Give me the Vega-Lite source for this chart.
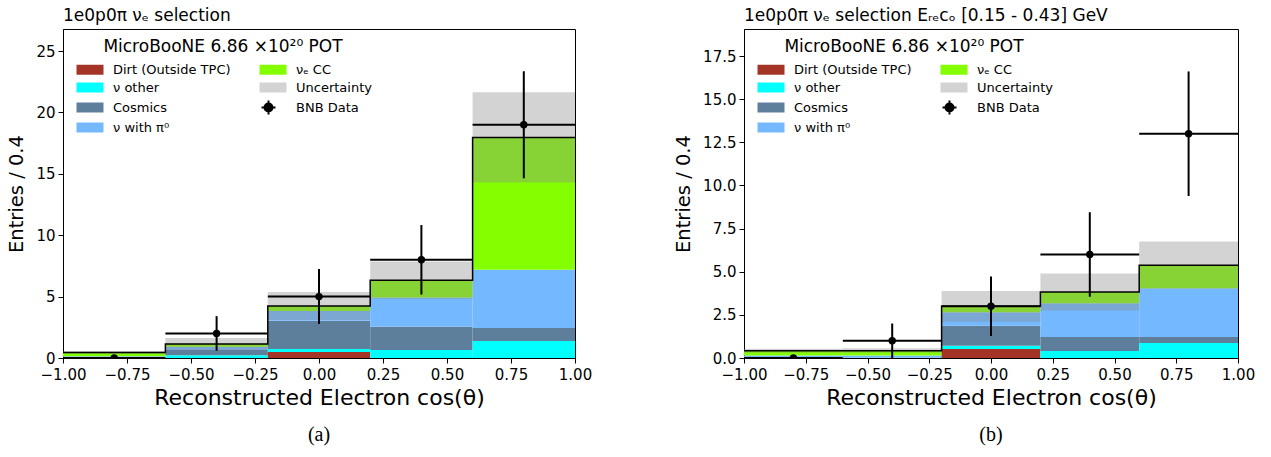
{
  "$schema": "https://vega.github.io/schema/vega-lite/v6.json",
  "background": "white",
  "padding": {"left": 6, "top": 6, "right": 5, "bottom": 3},
  "config": {
    "font": "DejaVu Sans",
    "view": {"stroke": "black", "strokeWidth": 1},
    "axis": {"grid": false, "domainColor": "black", "tickColor": "black", "labelColor": "black", "titleColor": "black", "tickSize": 5, "labelPadding": 3, "labelFontSize": 15, "titleFontWeight": "normal", "labelFlush": false},
    "axisX": {"titleFontSize": 22, "titlePadding": 5, "labelPadding": 4},
    "axisY": {"titleFontSize": 19.5, "titlePadding": 9},
    "title": {"fontWeight": "normal", "color": "black"},
    "legend": {"titleLimit": 400, "labelLimit": 300}
  },
  "datasets": {
    "compA": [
      {"lo": -1.0, "hi": -0.6, "category": "Cosmics", "count": 0.02, "ord": 3},
      {"lo": -1.0, "hi": -0.6, "category": "ν with π⁰", "count": 0.13, "ord": 4},
      {"lo": -1.0, "hi": -0.6, "category": "νₑ CC", "count": 0.30, "ord": 5},
      {"lo": -0.6, "hi": -0.2, "category": "ν other", "count": 0.22, "ord": 2},
      {"lo": -0.6, "hi": -0.2, "category": "Cosmics", "count": 0.43, "ord": 3},
      {"lo": -0.6, "hi": -0.2, "category": "ν with π⁰", "count": 0.27, "ord": 4},
      {"lo": -0.6, "hi": -0.2, "category": "νₑ CC", "count": 0.22, "ord": 5},
      {"lo": -0.2, "hi": 0.2, "category": "Dirt (Outside TPC)", "count": 0.49, "ord": 1},
      {"lo": -0.2, "hi": 0.2, "category": "ν other", "count": 0.24, "ord": 2},
      {"lo": -0.2, "hi": 0.2, "category": "Cosmics", "count": 2.30, "ord": 3},
      {"lo": -0.2, "hi": 0.2, "category": "ν with π⁰", "count": 0.79, "ord": 4},
      {"lo": -0.2, "hi": 0.2, "category": "νₑ CC", "count": 0.41, "ord": 5},
      {"lo": 0.2, "hi": 0.6, "category": "ν other", "count": 0.65, "ord": 2},
      {"lo": 0.2, "hi": 0.6, "category": "Cosmics", "count": 1.90, "ord": 3},
      {"lo": 0.2, "hi": 0.6, "category": "ν with π⁰", "count": 2.38, "ord": 4},
      {"lo": 0.2, "hi": 0.6, "category": "νₑ CC", "count": 1.41, "ord": 5},
      {"lo": 0.6, "hi": 1.0, "category": "ν other", "count": 1.38, "ord": 2},
      {"lo": 0.6, "hi": 1.0, "category": "Cosmics", "count": 1.06, "ord": 3},
      {"lo": 0.6, "hi": 1.0, "category": "ν with π⁰", "count": 4.74, "ord": 4},
      {"lo": 0.6, "hi": 1.0, "category": "νₑ CC", "count": 10.79, "ord": 5}
    ],
    "totA": [
      {"lo": -1.0, "hi": -0.6, "total": 0.45, "bandLo": 0.33, "bandHi": 0.57},
      {"lo": -0.6, "hi": -0.2, "total": 1.14, "bandLo": 0.65, "bandHi": 1.63},
      {"lo": -0.2, "hi": 0.2, "total": 4.23, "bandLo": 3.09, "bandHi": 5.37},
      {"lo": 0.2, "hi": 0.6, "total": 6.34, "bandLo": 4.82, "bandHi": 7.86},
      {"lo": 0.6, "hi": 1.0, "total": 17.97, "bandLo": 14.29, "bandHi": 21.65}
    ],
    "stepA": [
      {"edge": -1.0, "total": 0.45},
      {"edge": -0.6, "total": 1.14},
      {"edge": -0.2, "total": 4.23},
      {"edge": 0.2, "total": 6.34},
      {"edge": 0.6, "total": 17.97},
      {"edge": 1.0, "total": 17.97}
    ],
    "dataA": [
      {"center": -0.8, "lo": -1.0, "hi": -0.6, "n": 0, "nlo": 0, "nhi": 0},
      {"center": -0.4, "lo": -0.6, "hi": -0.2, "n": 2, "nlo": 0.59, "nhi": 3.41},
      {"center": 0.0, "lo": -0.2, "hi": 0.2, "n": 5, "nlo": 2.76, "nhi": 7.24},
      {"center": 0.4, "lo": 0.2, "hi": 0.6, "n": 8, "nlo": 5.17, "nhi": 10.83},
      {"center": 0.8, "lo": 0.6, "hi": 1.0, "n": 19, "nlo": 14.64, "nhi": 23.36}
    ],
    "compB": [
      {"lo": -1.0, "hi": -0.6, "category": "Cosmics", "count": 0.02, "ord": 3},
      {"lo": -1.0, "hi": -0.6, "category": "ν with π⁰", "count": 0.12, "ord": 4},
      {"lo": -1.0, "hi": -0.6, "category": "νₑ CC", "count": 0.28, "ord": 5},
      {"lo": -0.6, "hi": -0.2, "category": "Cosmics", "count": 0.02, "ord": 3},
      {"lo": -0.6, "hi": -0.2, "category": "ν with π⁰", "count": 0.12, "ord": 4},
      {"lo": -0.6, "hi": -0.2, "category": "νₑ CC", "count": 0.28, "ord": 5},
      {"lo": -0.2, "hi": 0.2, "category": "Dirt (Outside TPC)", "count": 0.52, "ord": 1},
      {"lo": -0.2, "hi": 0.2, "category": "ν other", "count": 0.19, "ord": 2},
      {"lo": -0.2, "hi": 0.2, "category": "Cosmics", "count": 1.16, "ord": 3},
      {"lo": -0.2, "hi": 0.2, "category": "ν with π⁰", "count": 0.78, "ord": 4},
      {"lo": -0.2, "hi": 0.2, "category": "νₑ CC", "count": 0.35, "ord": 5},
      {"lo": 0.2, "hi": 0.6, "category": "ν other", "count": 0.40, "ord": 2},
      {"lo": 0.2, "hi": 0.6, "category": "Cosmics", "count": 0.81, "ord": 3},
      {"lo": 0.2, "hi": 0.6, "category": "ν with π⁰", "count": 1.96, "ord": 4},
      {"lo": 0.2, "hi": 0.6, "category": "νₑ CC", "count": 0.66, "ord": 5},
      {"lo": 0.6, "hi": 1.0, "category": "ν other", "count": 0.87, "ord": 2},
      {"lo": 0.6, "hi": 1.0, "category": "Cosmics", "count": 0.34, "ord": 3},
      {"lo": 0.6, "hi": 1.0, "category": "ν with π⁰", "count": 2.83, "ord": 4},
      {"lo": 0.6, "hi": 1.0, "category": "νₑ CC", "count": 1.34, "ord": 5}
    ],
    "totB": [
      {"lo": -1.0, "hi": -0.6, "total": 0.42, "bandLo": 0.31, "bandHi": 0.53},
      {"lo": -0.6, "hi": -0.2, "total": 0.42, "bandLo": 0.30, "bandHi": 0.56},
      {"lo": -0.2, "hi": 0.2, "total": 3.0, "bandLo": 2.1, "bandHi": 3.88},
      {"lo": 0.2, "hi": 0.6, "total": 3.83, "bandLo": 2.76, "bandHi": 4.9},
      {"lo": 0.6, "hi": 1.0, "total": 5.38, "bandLo": 4.01, "bandHi": 6.75}
    ],
    "stepB": [
      {"edge": -1.0, "total": 0.42},
      {"edge": -0.6, "total": 0.42},
      {"edge": -0.2, "total": 3.0},
      {"edge": 0.2, "total": 3.83},
      {"edge": 0.6, "total": 5.38},
      {"edge": 1.0, "total": 5.38}
    ],
    "dataB": [
      {"center": -0.8, "lo": -1.0, "hi": -0.6, "n": 0, "nlo": 0, "nhi": 0},
      {"center": -0.4, "lo": -0.6, "hi": -0.2, "n": 1, "nlo": 0, "nhi": 2},
      {"center": 0.0, "lo": -0.2, "hi": 0.2, "n": 3, "nlo": 1.27, "nhi": 4.73},
      {"center": 0.4, "lo": 0.2, "hi": 0.6, "n": 6, "nlo": 3.55, "nhi": 8.45},
      {"center": 0.8, "lo": 0.6, "hi": 1.0, "n": 13, "nlo": 9.39, "nhi": 16.61}
    ]
  },
  "hconcat": [
    {
      "title": {"text": "(a)", "orient": "bottom", "font": "Liberation Serif", "fontSize": 20, "anchor": "middle", "frame": "group", "dx": 256, "offset": 16},
      "resolve": {"scale": {"color": "independent"}},
      "vconcat": [
        {
          "width": 512,
          "height": 329,
          "title": {"text": "1e0p0π νₑ selection", "anchor": "start", "frame": "group", "fontSize": 17, "offset": 4},
          "layer": [
            {
              "data": {"name": "compA"},
              "transform": [{"stack": "count", "groupby": ["lo"], "sort": [{"field": "ord", "order": "ascending"}], "as": ["y0", "y1"]}],
              "mark": {"type": "bar", "clip": true},
              "encoding": {
                "x": {"field": "lo", "type": "quantitative", "scale": {"domain": [-1, 1], "nice": false, "zero": false}, "axis": {"values": [-1, -0.75, -0.5, -0.25, 0, 0.25, 0.5, 0.75, 1], "format": ".2f"}, "title": "Reconstructed Electron cos(θ)"},
                "x2": {"field": "hi"},
                "y": {"field": "y0", "type": "quantitative", "scale": {"domain": [0, 26.8], "nice": false}, "axis": {"values": [0, 5, 10, 15, 20, 25], "format": "d"}, "title": "Entries / 0.4"},
                "y2": {"field": "y1"},
                "color": {
                  "field": "category", "type": "nominal",
                  "scale": {
                    "domain": ["Dirt (Outside TPC)", "ν other", "Cosmics", "ν with π⁰", "νₑ CC", "Uncertainty", "BNB Data"],
                    "range": ["#a33426", "#00ffff", "#5e7f9c", "#74b8ff", "#84ff00", "#d3d3d3", "#000000"]
                  },
                  "legend": {
                    "orient": "none", "legendX": 12, "legendY": 10, "columns": 2,
                    "title": "MicroBooNE 6.86 ×10²⁰ POT", "titleFontSize": 17, "titleFontWeight": "normal", "titleColor": "black", "titleAnchor": "middle", "titlePadding": 7,
                    "labelFontSize": 13, "labelColor": "black", "symbolSize": 100, "rowPadding": -1, "columnPadding": 24, "labelOffset": 25,
                    "values": ["Dirt (Outside TPC)", "ν other", "Cosmics", "ν with π⁰", "νₑ CC", "Uncertainty", "BNB Data"],
                    "encode": {"symbols": {"update": {
                      "shape": {"signal": "datum.value === 'BNB Data' ? 'M0.8,-1.4V1.4M-0.6,0H2.2M0,0A0.8,0.8 0 1 1 1.6,0A0.8,0.8 0 1 1 0,0Z' : 'M-1,-1H4.4V1H-1Z'"},
                      "stroke": {"signal": "datum.value === 'BNB Data' ? 'black' : 'transparent'"},
                      "strokeWidth": {"value": 2},
                      "opacity": {"value": 1}
                    }}}
                  }
                }
              }
            },
            {
              "data": {"name": "totA"},
              "mark": {"type": "rect", "color": "#8d8d8d", "opacity": 0.384, "clip": true},
              "encoding": {
                "x": {"field": "lo", "type": "quantitative"},
                "x2": {"field": "hi"},
                "y": {"field": "bandLo", "type": "quantitative"},
                "y2": {"field": "bandHi"}
              }
            },
            {
              "data": {"name": "stepA"},
              "mark": {"type": "line", "interpolate": "step-after", "color": "black", "strokeWidth": 1.5, "clip": true},
              "encoding": {
                "x": {"field": "edge", "type": "quantitative"},
                "y": {"field": "total", "type": "quantitative"}
              }
            },
            {
              "data": {"name": "dataA"},
              "mark": {"type": "rule", "color": "black", "strokeWidth": 2, "clip": true},
              "encoding": {
                "x": {"field": "lo", "type": "quantitative"},
                "x2": {"field": "hi"},
                "y": {"field": "n", "type": "quantitative"}
              }
            },
            {
              "data": {"name": "dataA"},
              "mark": {"type": "rule", "color": "black", "strokeWidth": 2, "clip": true},
              "encoding": {
                "x": {"field": "center", "type": "quantitative"},
                "y": {"field": "nlo", "type": "quantitative"},
                "y2": {"field": "nhi"}
              }
            },
            {
              "data": {"name": "dataA"},
              "mark": {"type": "point", "filled": true, "shape": "circle", "color": "black", "size": 55, "opacity": 1, "clip": true},
              "encoding": {
                "x": {"field": "center", "type": "quantitative"},
                "y": {"field": "n", "type": "quantitative"}
              }
            }
          ]
        }
      ]
    },
    {
      "title": {"text": "(b)", "orient": "bottom", "font": "Liberation Serif", "fontSize": 20, "anchor": "middle", "frame": "group", "dx": 247, "offset": 16},
      "resolve": {"scale": {"color": "independent"}},
      "vconcat": [
        {
          "width": 494,
          "height": 329,
          "title": {"text": "1e0p0π νₑ selection Eᵣₑcₒ [0.15 - 0.43] GeV", "anchor": "start", "frame": "group", "fontSize": 17, "offset": 4},
          "layer": [
            {
              "data": {"name": "compB"},
              "transform": [{"stack": "count", "groupby": ["lo"], "sort": [{"field": "ord", "order": "ascending"}], "as": ["y0", "y1"]}],
              "mark": {"type": "bar", "clip": true},
              "encoding": {
                "x": {"field": "lo", "type": "quantitative", "scale": {"domain": [-1, 1], "nice": false, "zero": false}, "axis": {"values": [-1, -0.75, -0.5, -0.25, 0, 0.25, 0.5, 0.75, 1], "format": ".2f"}, "title": "Reconstructed Electron cos(θ)"},
                "x2": {"field": "hi"},
                "y": {"field": "y0", "type": "quantitative", "scale": {"domain": [0, 19.07], "nice": false}, "axis": {"values": [0, 2.5, 5, 7.5, 10, 12.5, 15, 17.5], "format": ".1f"}, "title": "Entries / 0.4"},
                "y2": {"field": "y1"},
                "color": {
                  "field": "category", "type": "nominal",
                  "scale": {
                    "domain": ["Dirt (Outside TPC)", "ν other", "Cosmics", "ν with π⁰", "νₑ CC", "Uncertainty", "BNB Data"],
                    "range": ["#a33426", "#00ffff", "#5e7f9c", "#74b8ff", "#84ff00", "#d3d3d3", "#000000"]
                  },
                  "legend": {
                    "orient": "none", "legendX": 12, "legendY": 10, "columns": 2,
                    "title": "MicroBooNE 6.86 ×10²⁰ POT", "titleFontSize": 17, "titleFontWeight": "normal", "titleColor": "black", "titleAnchor": "middle", "titlePadding": 7,
                    "labelFontSize": 13, "labelColor": "black", "symbolSize": 100, "rowPadding": -1, "columnPadding": 24, "labelOffset": 25,
                    "values": ["Dirt (Outside TPC)", "ν other", "Cosmics", "ν with π⁰", "νₑ CC", "Uncertainty", "BNB Data"],
                    "encode": {"symbols": {"update": {
                      "shape": {"signal": "datum.value === 'BNB Data' ? 'M0.8,-1.4V1.4M-0.6,0H2.2M0,0A0.8,0.8 0 1 1 1.6,0A0.8,0.8 0 1 1 0,0Z' : 'M-1,-1H4.4V1H-1Z'"},
                      "stroke": {"signal": "datum.value === 'BNB Data' ? 'black' : 'transparent'"},
                      "strokeWidth": {"value": 2},
                      "opacity": {"value": 1}
                    }}}
                  }
                }
              }
            },
            {
              "data": {"name": "totB"},
              "mark": {"type": "rect", "color": "#8d8d8d", "opacity": 0.384, "clip": true},
              "encoding": {
                "x": {"field": "lo", "type": "quantitative"},
                "x2": {"field": "hi"},
                "y": {"field": "bandLo", "type": "quantitative"},
                "y2": {"field": "bandHi"}
              }
            },
            {
              "data": {"name": "stepB"},
              "mark": {"type": "line", "interpolate": "step-after", "color": "black", "strokeWidth": 1.5, "clip": true},
              "encoding": {
                "x": {"field": "edge", "type": "quantitative"},
                "y": {"field": "total", "type": "quantitative"}
              }
            },
            {
              "data": {"name": "dataB"},
              "mark": {"type": "rule", "color": "black", "strokeWidth": 2, "clip": true},
              "encoding": {
                "x": {"field": "lo", "type": "quantitative"},
                "x2": {"field": "hi"},
                "y": {"field": "n", "type": "quantitative"}
              }
            },
            {
              "data": {"name": "dataB"},
              "mark": {"type": "rule", "color": "black", "strokeWidth": 2, "clip": true},
              "encoding": {
                "x": {"field": "center", "type": "quantitative"},
                "y": {"field": "nlo", "type": "quantitative"},
                "y2": {"field": "nhi"}
              }
            },
            {
              "data": {"name": "dataB"},
              "mark": {"type": "point", "filled": true, "shape": "circle", "color": "black", "size": 55, "opacity": 1, "clip": true},
              "encoding": {
                "x": {"field": "center", "type": "quantitative"},
                "y": {"field": "n", "type": "quantitative"}
              }
            }
          ]
        }
      ]
    }
  ],
  "spacing": 80
}
